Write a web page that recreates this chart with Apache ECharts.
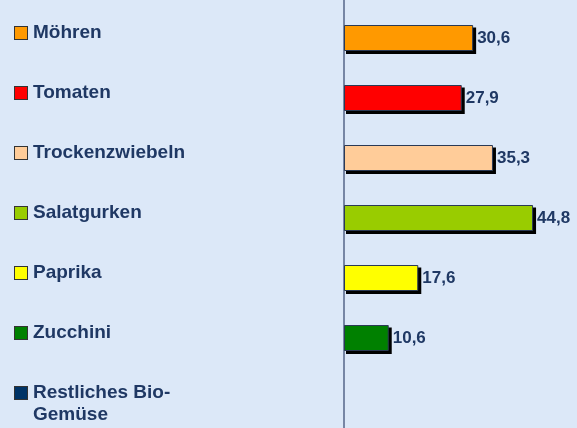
<!DOCTYPE html>
<html>
<head>
<meta charset="utf-8">
<script src="https://cdn.jsdelivr.net/npm/echarts@6/dist/echarts.min.js"></script>
<style>
  html, body { margin: 0; padding: 0; background: #dce8f8; }
  #main { width: 577px; height: 428px; }
</style>
</head>
<body>
<div id="main"></div>
<script>
    // Kategorien und Werte
    var categories = ['Möhren', 'Tomaten', 'Trockenzwiebeln', 'Salatgurken', 'Paprika', 'Zucchini', 'Restliches Bio-\nGemüse'];
    var values = [30.6, 27.9, 35.3, 44.8, 17.6, 10.6, null];
    var colors = ['#ff9900', '#ff0000', '#ffcc99', '#99cc00', '#ffff00', '#008000', '#003366'];

    var textColor = '#1f3864';
    var barHeight = 26;
    var chart = echarts.init(document.getElementById('main'));

    // rich styles for the little square markers
    var rich = {
        t: { fontFamily: 'Arial', fontWeight: 'bold', fontSize: 19, color: textColor, lineHeight: 22 },
        g: { width: 6, height: 12 },
        s: { width: 18, height: 12 }
    };
    colors.forEach(function (c, i) {
        rich['m' + i] = {
            width: 12, height: 12, backgroundColor: c,
            borderColor: '#333333', borderWidth: 1
        };
    });

    var option = {
        backgroundColor: '#dce8f8',
        animation: false,
        grid: [
            { left: 344, top: 8, bottom: 0, width: 211 },
            // nur für die durchgehende senkrechte Achsenlinie
            { left: 344, top: 0, bottom: 0, width: 211 }
        ],
        xAxis: [
            { type: 'value', min: 0, max: 50, show: false },
            { type: 'value', min: 0, max: 50, show: false, gridIndex: 1 }
        ],
        yAxis: [{
            type: 'category',
            inverse: true,
            data: categories,
            axisLine: { show: false },
            axisTick: { show: false },
            axisLabel: {
                align: 'left',
                verticalAlign: 'top',
                margin: 329,
                padding: [-16, 0, 0, 0],
                formatter: function (val, idx) {
                    var lines = val.split('\n');
                    var out = '{m' + idx + '|}{g|}{t|' + lines[0] + '}';
                    for (var i = 1; i < lines.length; i++) {
                        out += '\n{s|}{t|' + lines[i] + '}';
                    }
                    return out;
                },
                rich: rich
            }
        }, {
            type: 'value',
            gridIndex: 1,
            min: 0, max: 1,
            axisLine: { show: true, lineStyle: { color: '#56668a', width: 1.5 } },
            axisTick: { show: false },
            axisLabel: { show: false },
            splitLine: { show: false }
        }],
        series: [{
            // schwarzer Schatten hinter den Balken
            type: 'custom',
            z: 1,
            silent: true,
            data: values.map(function (v, i) { return [v, i]; }),
            encode: { x: 0, y: 1 },
            renderItem: function (params, api) {
                var v = api.value(0);
                if (v == null || isNaN(v)) return;
                var start = api.coord([0, api.value(1)]);
                var end = api.coord([v, api.value(1)]);
                return {
                    type: 'rect',
                    shape: {
                        x: start[0] + 2,
                        y: start[1] - barHeight / 2 + 2.5,
                        width: end[0] - start[0] + 1,
                        height: barHeight + 0.5
                    },
                    style: { fill: '#000000' }
                };
            }
        }, {
            type: 'bar',
            z: 2,
            barWidth: barHeight,
            data: values.map(function (v, i) {
                return {
                    value: v,
                    itemStyle: { color: colors[i] }
                };
            }),
            itemStyle: {
                borderColor: '#2b3a55',
                borderWidth: 1
            },
            label: {
                show: true,
                position: 'right',
                distance: 4,
                fontFamily: 'Arial',
                fontWeight: 'bold',
                fontSize: 17,
                color: textColor,
                formatter: function (p) {
                    return p.value == null ? '' : p.value.toFixed(1).replace('.', ',');
                }
            }
        }]
    };

    chart.setOption(option);
</script>
</body>
</html>
